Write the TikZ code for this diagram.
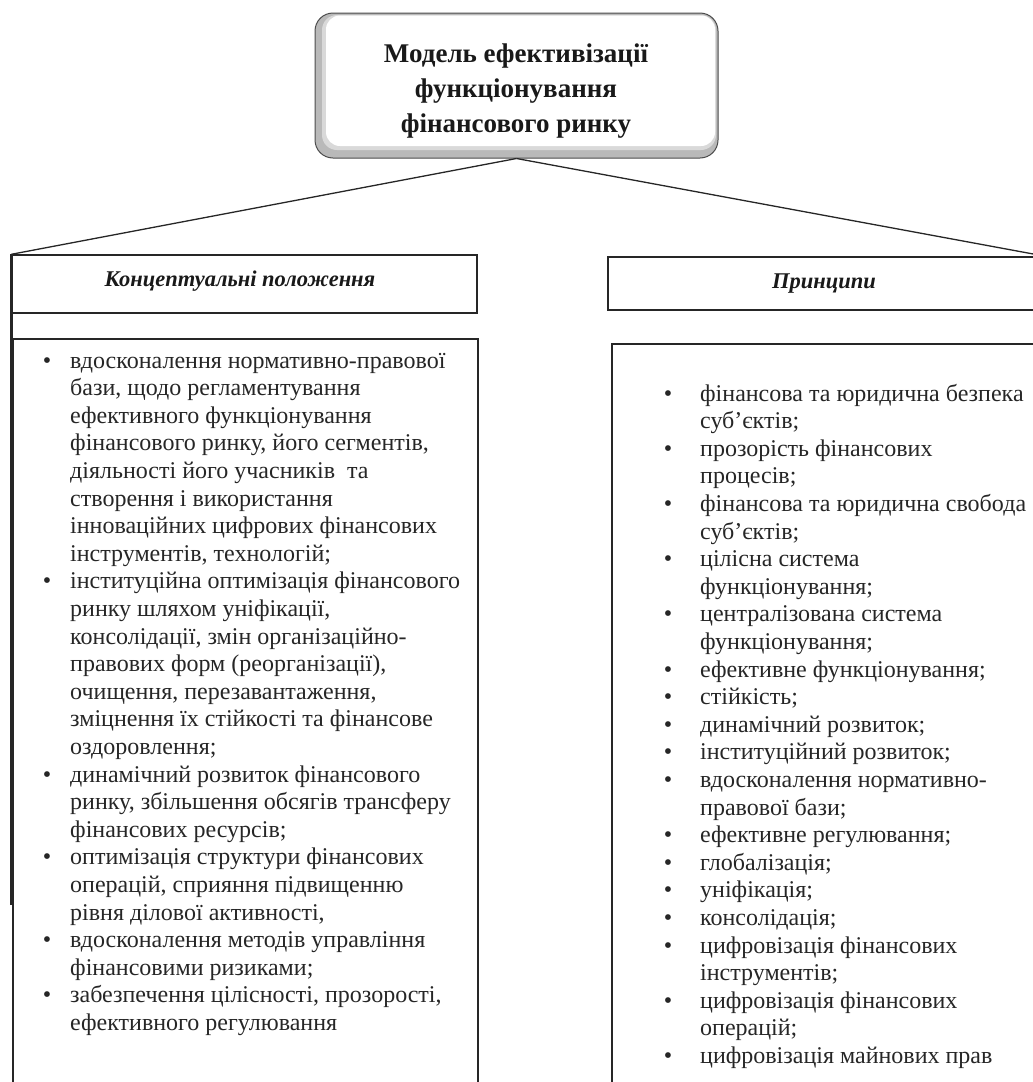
\documentclass[tikz,border=0pt]{standalone}
\usepackage{fontspec}
\setmainfont{Liberation Serif}
\newcommand\mybul[1]{\llap{•\hspace{#1}}}
\tikzset{
  hbox/.style={draw=black!85, line width=1.4pt, inner sep=0pt},
  cbox/.style={draw=black!85, line width=1.2pt, inner sep=0pt},
  conn/.style={draw=black!85, line width=1.3pt},
  htext/.style={font=\bfseries\itshape\fontsize{22.5}{26}\selectfont, anchor=base, inner sep=0pt, text=black!90},
  btext/.style={font=\fontsize{24}{27.6}\selectfont, anchor=base west, inner sep=0pt, text=black!85},
}
\begin{document}
\begin{tikzpicture}[x=1pt,y=-1pt]
\useasboundingbox (0,0) rectangle (1033,1082);
% top box
\node[draw=black!70, fill=gray!55, rounded corners=18pt, line width=1pt,
      minimum width=403pt, minimum height=145pt, inner sep=0pt] (top) at (516.5,85.5) {};
\fill[gray!30, rounded corners=15pt] (322,15) rectangle (716,150);
\fill[white, rounded corners=14pt] (326,15.5) rectangle (715,146);
\node[font=\bfseries\fontsize{27}{35}\selectfont, anchor=base, inner sep=0pt, text=black!90] (title) at (516,62)
  {\begin{tabular}[t]{@{}c@{}}Модель ефективізації\\функціонування\\фінансового ринку\end{tabular}};
% headers
\node[hbox, minimum width=465pt, minimum height=58pt] (lhead) at (244.5,284) {};
\node[hbox, minimum width=437pt, minimum height=53pt] (rhead) at (826.5,283.5) {};
\node[htext] (lht) at (240,286) {Концептуальні положення};
\node[htext] (rht) at (824,288) {Принципи};
% connectors
\draw[conn] (top.south) -- (lhead.north west);
\draw[conn] (top.south) -- (rhead.north east);
\coordinate (lend) at (11,905);
\draw[line width=2.8pt, black!85] (lhead.north west) -- (lhead.north west |- lend);
% content boxes
\node[cbox, minimum width=465pt, minimum height=751pt] (lbox) at (245.5,714.5) {};
\node[cbox, minimum width=433pt, minimum height=746pt] (rbox) at (828.5,717) {};
% left text
\node[btext] (ltxt) at (70,368) {\begin{tabular}[t]{@{}l@{}}
\mybul{19pt}вдосконалення нормативно-правової\\
бази, щодо регламентування\\
ефективного функціонування\\
фінансового ринку, його сегментів,\\
діяльності його учасників\ \ та\\
створення і використання\\
інноваційних цифрових фінансових\\
інструментів, технологій;\\
\mybul{19pt}інституційна оптимізація фінансового\\
ринку шляхом уніфікації,\\
консолідації, змін організаційно-\\
правових форм (реорганізації),\\
очищення, перезавантаження,\\
зміцнення їх стійкості та фінансове\\
оздоровлення;\\
\mybul{19pt}динамічний розвиток фінансового\\
ринку, збільшення обсягів трансферу\\
фінансових ресурсів;\\
\mybul{19pt}оптимізація структури фінансових\\
операцій, сприяння підвищенню\\
рівня ділової активності,\\
\mybul{19pt}вдосконалення методів управління\\
фінансовими ризиками;\\
\mybul{19pt}забезпечення цілісності, прозорості,\\
ефективного регулювання
\end{tabular}};
% right text
\node[btext] (rtxt) at (700,401) {\begin{tabular}[t]{@{}l@{}}
\mybul{28pt}фінансова та юридична безпека\\
суб’єктів;\\
\mybul{28pt}прозорість фінансових\\
процесів;\\
\mybul{28pt}фінансова та юридична свобода\\
суб’єктів;\\
\mybul{28pt}цілісна система\\
функціонування;\\
\mybul{28pt}централізована система\\
функціонування;\\
\mybul{28pt}ефективне функціонування;\\
\mybul{28pt}стійкість;\\
\mybul{28pt}динамічний розвиток;\\
\mybul{28pt}інституційний розвиток;\\
\mybul{28pt}вдосконалення нормативно-\\
правової бази;\\
\mybul{28pt}ефективне регулювання;\\
\mybul{28pt}глобалізація;\\
\mybul{28pt}уніфікація;\\
\mybul{28pt}консолідація;\\
\mybul{28pt}цифровізація фінансових\\
інструментів;\\
\mybul{28pt}цифровізація фінансових\\
операцій;\\
\mybul{28pt}цифровізація майнових прав
\end{tabular}};
\end{tikzpicture}
\end{document}
